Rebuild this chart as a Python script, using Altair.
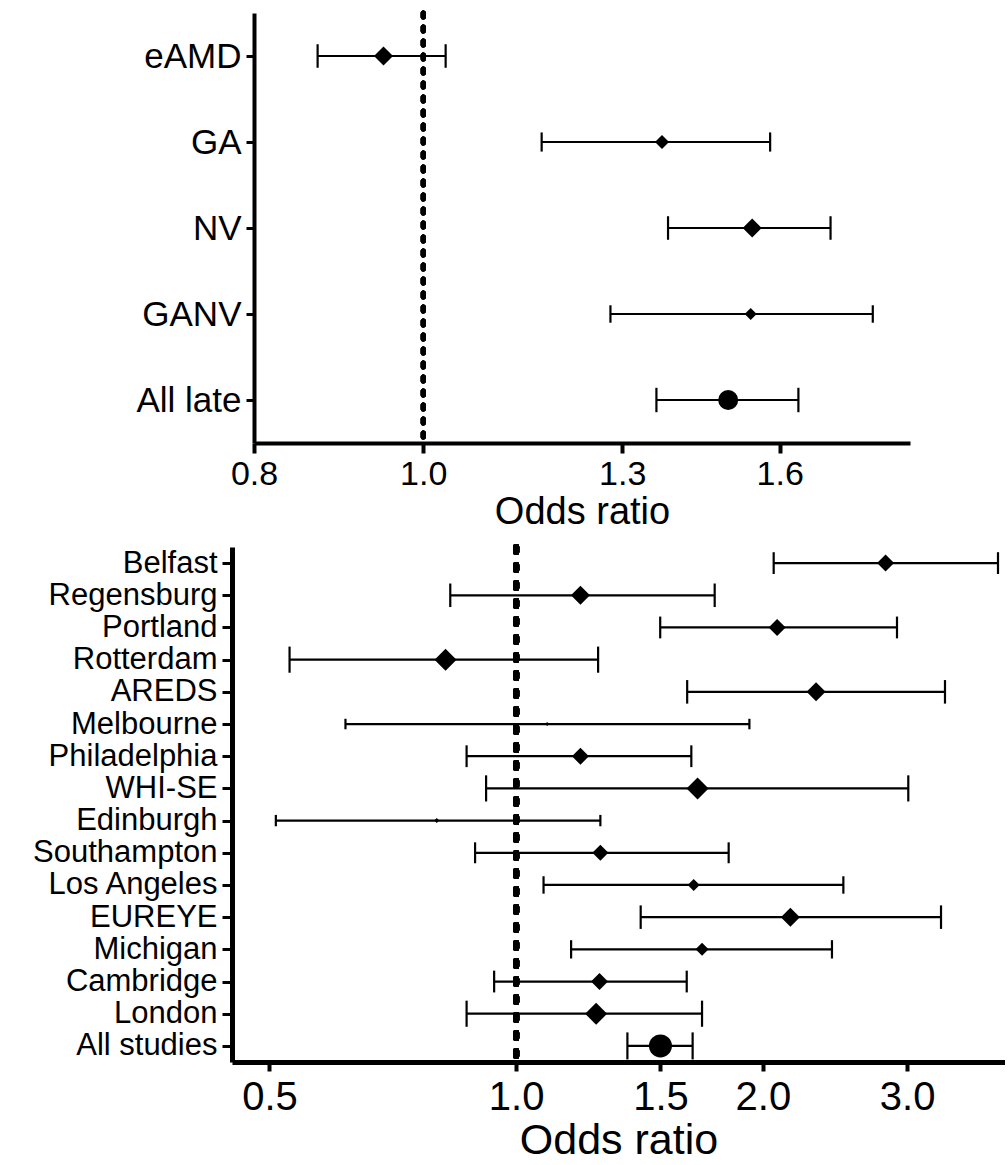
import altair as alt
import pandas as pd

# ---------------- data: top panel ----------------
top_labels = ["eAMD", "GA", "NV", "GANV", "All late"]
top_or = [0.949, 1.370, 1.543, 1.540, 1.495]
top_lo = [0.870, 1.169, 1.381, 1.280, 1.360]
top_hi = [1.030, 1.580, 1.711, 1.809, 1.640]
top_weight = [19, 14, 19, 12, 20]
top_kind = ["study", "study", "study", "study", "pooled"]
top_ticks = [0.8, 1.0, 1.3, 1.6]

# ---------------- data: bottom panel ----------------
bot_labels = ["Belfast", "Regensburg", "Portland", "Rotterdam", "AREDS",
              "Melbourne", "Philadelphia", "WHI-SE", "Edinburgh", "Southampton",
              "Los Angeles", "EUREYE", "Michigan", "Cambridge", "London",
              "All studies"]
bot_or = [2.824, 1.198, 2.082, 0.820, 2.323, 1.091, 1.198, 1.665, 0.800,
          1.267, 1.647, 2.161, 1.686, 1.264, 1.252, 1.500]
bot_lo = [2.062, 0.831, 1.499, 0.529, 1.617, 0.619, 0.870, 0.919, 0.509,
          0.891, 1.080, 1.419, 1.167, 0.940, 0.870, 1.367]
bot_hi = [3.873, 1.747, 2.916, 1.259, 3.337, 1.926, 1.636, 3.010, 1.267,
          1.817, 2.508, 3.300, 2.429, 1.615, 1.686, 1.642]
bot_weight = [17, 19, 17, 22, 19, 4, 17, 22, 5, 16, 12, 19, 13, 17, 22, 23]
bot_kind = ["study"] * 15 + ["pooled"]
bot_ticks = [0.5, 1.0, 1.5, 2.0, 3.0]

FONT = "Liberation Sans"


def make_df(labels, orv, lo, hi, w, kind):
    return pd.DataFrame({"label": labels, "or": orv, "lo": lo, "hi": hi,
                         "w": w, "kind": kind})


def panel(df, order, domain, ticks, width, height, xrange, yoffset,
          ylab_size, xlab_size, title_size, ytick, xtick, xlabpad,
          titlepad, dash, dash_w, domain_w, yextent):
    yaxis_kw = dict(title=None, labelFont=FONT,
                    labelFontSize=ylab_size, labelColor="black",
                    tickSize=ytick, tickWidth=3, tickColor="black",
                    domainWidth=domain_w, domainColor="black",
                    labelPadding=5, offset=yoffset, grid=False,
                    labelLimit=400)
    if yextent is not None:
        yaxis_kw["minExtent"] = yextent
        yaxis_kw["maxExtent"] = yextent
    yenc = alt.Y("label:N", sort=order,
                 scale=alt.Scale(type="point", padding=0.5),
                 axis=alt.Axis(**yaxis_kw))
    if xrange is not None:
        xscale = alt.Scale(type="log", domain=domain, range=xrange)
    else:
        xscale = alt.Scale(type="log", domain=domain)
    xaxis = alt.Axis(values=ticks, format=".1f", title="Odds ratio",
                     labelFont=FONT, labelFontSize=xlab_size,
                     labelColor="black", titleFont=FONT,
                     titleFontSize=title_size, titleFontWeight="normal",
                     titleColor="black", tickSize=xtick, tickWidth=4,
                     tickColor="black", domainWidth=domain_w,
                     domainColor="black", labelPadding=xlabpad,
                     titlePadding=titlepad, grid=False, labelFlush=False)

    base = alt.Chart(df).transform_calculate(
        sz="datum.w * datum.w", cap="7 + 0.87 * datum.w")

    ref = alt.Chart(df).mark_rule(
        color="black", strokeWidth=dash_w, strokeDash=dash,
        strokeCap="round").encode(
        x=alt.datum(1.0, scale=xscale, axis=xaxis))

    bars = base.mark_rule(color="black", strokeWidth=2.2).encode(
        x=alt.X("lo:Q", scale=xscale, axis=xaxis), x2="hi:Q", y=yenc)

    cap_lo = base.mark_tick(color="black", thickness=2.2, opacity=1).encode(
        x=alt.X("lo:Q", scale=xscale, axis=xaxis), y=yenc,
        size=alt.Size("cap:Q", scale=None))
    cap_hi = base.mark_tick(color="black", thickness=2.2, opacity=1).encode(
        x=alt.X("hi:Q", scale=xscale, axis=xaxis), y=yenc,
        size=alt.Size("cap:Q", scale=None))

    pts = base.mark_point(filled=True, color="black", opacity=1).encode(
        x=alt.X("or:Q", scale=xscale, axis=xaxis), y=yenc,
        shape=alt.Shape("kind:N",
                        scale=alt.Scale(domain=["study", "pooled"],
                                        range=["diamond", "circle"]),
                        legend=None),
        size=alt.Size("sz:Q", scale=None))

    return alt.layer(ref, bars, cap_lo, cap_hi, pts).properties(
        width=width, height=height)


top_df = make_df(top_labels, top_or, top_lo, top_hi, top_weight, top_kind)
bot_df = make_df(bot_labels, bot_or, bot_lo, bot_hi, bot_weight, bot_kind)

top = panel(top_df, top_labels, [0.8, 1.9], top_ticks, 678, 430, [22, 678],
            -22, 35, 34, 38, 8, 10, 4, 2, [4, 10], 5, 4, None)
bottom = panel(bot_df, bot_labels, [0.45, 3.95], bot_ticks, 773, 515, None,
               0, 31, 40, 43, 10, 9, 6, 2, [5, 13], 6, 5, 200)

chart = alt.vconcat(top, bottom, spacing=13).properties(
    padding={"left": 32, "top": 10, "right": 0, "bottom": 0}
).configure_view(stroke=None).resolve_scale(x="independent",
                                            y="independent",
                                            shape="independent")

chart.save("out.html", embed_options={"renderer": "svg", "actions": False})
